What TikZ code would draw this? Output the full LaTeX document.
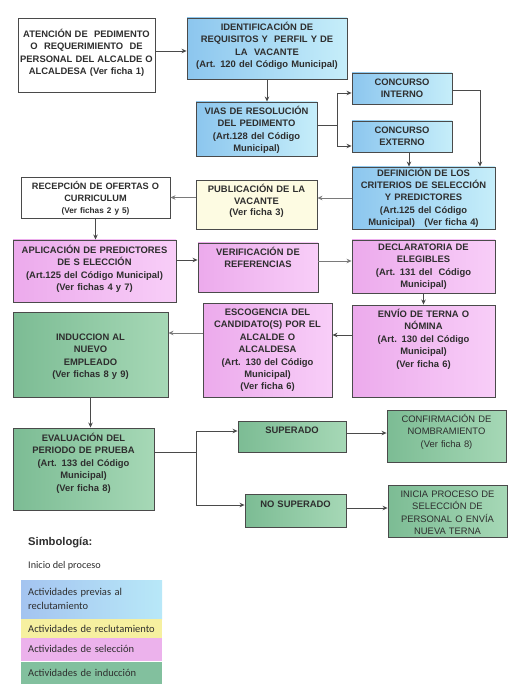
\documentclass[tikz,border=0pt]{standalone}
\usepackage{fontspec}
\setmainfont{Liberation Sans}
\newfontfamily\calib{Carlito}
\usetikzlibrary{arrows.meta}
\definecolor{bordc}{HTML}{4A4A4A}
\definecolor{lightc}{HTML}{7A7A7A}
\definecolor{txtc}{HTML}{2E2E2E}
\definecolor{bluL}{HTML}{8CC6EE}
\definecolor{bluR}{HTML}{C6EEFA}
\definecolor{pnkL}{HTML}{ECAAEC}
\definecolor{pnkR}{HTML}{F8CEF8}
\definecolor{grnL}{HTML}{7CBC94}
\definecolor{grnR}{HTML}{A6D8B6}
\definecolor{yel}{HTML}{FDFBE2}
\definecolor{lgblL}{HTML}{A4C4F0}
\definecolor{lgblR}{HTML}{B8E8F8}
\definecolor{lgyel}{HTML}{F6F0A0}
\definecolor{lgpnk}{HTML}{ECB2EC}
\definecolor{lggrn}{HTML}{82C09E}
\tikzset{
  box/.style={draw=bordc, line width=0.9pt, rectangle, inner sep=0pt},
  whitebox/.style={box, fill=white},
  bluebox/.style={box, left color=bluL, right color=bluR},
  pinkbox/.style={box, left color=pnkL, right color=pnkR},
  greenbox/.style={box, left color=grnL, right color=grnR},
  yelbox/.style={box, fill=yel},
  txt/.style={anchor=base, inner sep=0pt, align=center, text=txtc,
    font=\bfseries\fontsize{9.4}{12.4}\selectfont},
  txtr/.style={txt, font=\fontsize{9.4}{12.4}\selectfont},
  legtxt/.style={anchor=base west, inner sep=0pt, align=left, text=txtc, text width=140pt,
    font=\calib\fontsize{10.5}{14}\selectfont},
  arr/.style={draw=bordc, line width=0.8pt, -{Stealth[length=5pt,width=4.5pt]}},
  arrl/.style={arr, draw=lightc},
  ln/.style={draw=bordc, line width=0.8pt},
}
\begin{document}
\begin{tikzpicture}[x=1pt,y=-1pt]
\useasboundingbox[fill=white] (0,0) rectangle (515,692);
% boxes
\node[whitebox, minimum width=137pt, minimum height=74pt] (A) at (86.5,55) {};
\node[bluebox, minimum width=160pt, minimum height=61pt] (B) at (267,48.5) {};
\node[bluebox, minimum width=121pt, minimum height=54pt] (C) at (256.5,129) {};
\node[bluebox, minimum width=100pt, minimum height=31pt] (D) at (402,88.5) {};
\node[bluebox, minimum width=100pt, minimum height=31pt] (E) at (402,136.5) {};
\node[bluebox, minimum width=143pt, minimum height=62pt] (F) at (423.5,198) {};
\node[yelbox, minimum width=121pt, minimum height=49pt] (G) at (256.5,204.5) {};
\node[box, fill=white, minimum width=149pt, minimum height=41pt] (H) at (95.5,197.5) {};
\node[pinkbox, minimum width=163pt, minimum height=62pt] (I) at (94.5,271) {};
\node[pinkbox, minimum width=120pt, minimum height=49pt] (J) at (258,267.5) {};
\node[pinkbox, minimum width=143pt, minimum height=53pt] (K) at (423.5,266.5) {};
\node[pinkbox, minimum width=143pt, minimum height=92pt] (L) at (423.5,351) {};
\node[pinkbox, minimum width=129pt, minimum height=94pt] (M) at (267.5,350) {};
\node[greenbox, minimum width=155pt, minimum height=85pt] (N) at (90.5,354.5) {};
\node[greenbox, minimum width=141pt, minimum height=82pt] (O) at (83.5,469) {};
\node[greenbox, minimum width=108pt, minimum height=31pt] (P) at (292,436.5) {};
\node[greenbox, minimum width=119pt, minimum height=52pt] (Q) at (446.5,436) {};
\node[greenbox, minimum width=101pt, minimum height=33pt] (R) at (295.5,510.5) {};
\node[greenbox, minimum width=119pt, minimum height=52pt] (S) at (447.5,511) {};
% texts
\node[txt, text width=150pt] (tA) at (86.5,37.5) {ATENCIÓN DE\ \ PEDIMENTO\\ O\ \ REQUERIMIENTO\ \ DE\\ PERSONAL DEL ALCALDE O\\ ALCALDESA (Ver ficha 1)};
\node[txt, text width=170pt] (tB) at (267,30.5) {IDENTIFICACIÓN DE\\ REQUISITOS Y\ \ PERFIL Y DE\\ LA\ \ VACANTE\\ (Art. 120 del Código Municipal)};
\node[txt, text width=130pt] (tC) at (256.5,114.5) {VIAS DE RESOLUCIÓN\\ DEL PEDIMENTO\\ (Art.128 del Código\\ Municipal)};
\node[txt, text width=100pt] (tD) at (402,85.5) {CONCURSO\\ INTERNO};
\node[txt, text width=100pt] (tE) at (402,133.5) {CONCURSO\\ EXTERNO};
\node[txt, text width=150pt, font=\bfseries\fontsize{9.4}{12.2}\selectfont] (tF) at (423.5,176.5) {DEFINICIÓN DE LOS\\ CRITERIOS DE SELECCIÓN\\ Y PREDICTORES\\ (Art.125 del Código\\ Municipal)\ \ \ (Ver ficha 4)};
\node[txt, text width=130pt, font=\bfseries\fontsize{9.4}{11.6}\selectfont] (tG) at (256.5,192.5) {PUBLICACIÓN DE LA\\ VACANTE\\ (Ver ficha 3)};
\node[txt, text width=160pt, font=\bfseries\fontsize{9.2}{11.8}\selectfont] (tH) at (95.5,189.5) {RECEPCIÓN DE OFERTAS O\\ CURRICULUM\\ {\fontsize{8.2}{11.8}\selectfont(Ver fichas 2 y 5)}};
\node[txt, text width=170pt] (tI) at (94.5,253.5) {APLICACIÓN DE PREDICTORES\\ DE S ELECCIÓN\\ (Art.125 del Código Municipal)\\ (Ver fichas 4 y 7)};
\node[txt, text width=130pt] (tJ) at (258,255.5) {VERIFICACIÓN DE\\ REFERENCIAS};
\node[txt, text width=150pt] (tK) at (423.5,250.5) {DECLARATORIA DE\\ ELEGIBLES\\ (Art. 131 del\ \ Código\\ Municipal)};
\node[txt, text width=150pt] (tL) at (423.5,317.5) {ENVÍO DE TERNA O\\ NÓMINA\\ (Art. 130 del Código\\ Municipal)\\ (Ver ficha 6)};
\node[txt, text width=135pt] (tM) at (267.5,315.5) {ESCOGENCIA DEL\\ CANDIDATO(S) POR EL\\ ALCALDE O\\ ALCALDESA\\ (Art. 130 del Código\\ Municipal)\\ (Ver ficha 6)};
\node[txt, text width=155pt] (tN) at (90.5,340.5) {INDUCCION AL\\ NUEVO\\ EMPLEADO\\ (Ver fichas 8 y 9)};
\node[txt, text width=141pt] (tO) at (83.5,441.5) {EVALUACIÓN DEL\\ PERIODO DE PRUEBA\\ (Art. 133 del Código\\ Municipal)\\ (Ver ficha 8)};
\node[txt, text width=108pt] (tP) at (292,433.5) {SUPERADO};
\node[txtr, text width=125pt] (tQ) at (446.5,422.5) {CONFIRMACIÓN DE\\ NOMBRAMIENTO\\ (Ver ficha 8)};
\node[txt, text width=101pt] (tR) at (295.5,507.5) {NO SUPERADO};
\node[txtr, text width=125pt] (tS) at (447.5,497.5) {INICIA PROCESO DE\\ SELECCIÓN DE\\ PERSONAL O ENVÍA\\ NUEVA TERNA};
% helper coordinates
\coordinate (ab) at (0,51);
\coordinate (cs) at (337,125);
\coordinate (dy) at (0,93);
\coordinate (ey) at (0,146);
\coordinate (dx) at (480,90);
\coordinate (ex) at (409,160);
\coordinate (ij) at (0,260);
\coordinate (jk) at (0,261);
\coordinate (lm) at (0,335);
\coordinate (mn) at (0,333);
\coordinate (ob) at (196,452);
\coordinate (pb) at (0,431);
\coordinate (rb) at (0,505);
\coordinate (pq) at (0,433);
\coordinate (rs) at (0,508);
\coordinate (bx) at (267,0);
% connectors
\draw[arr] (A.east |- ab) -- (B.west |- ab);
\draw[arr] (B.south -| bx) -- (C.north -| bx);
\draw[ln] (C.east |- cs) -- (cs);
\draw[arr] (cs |- dy) -- (D.west |- dy);
\draw[arr] (cs) |- (E.west |- ey);
\draw[ln] (cs |- dy) -- (cs);
\draw[arr] (D.east |- dx) -- (dx) -- (dx |- F.north);
\draw[arr] (E.south -| ex) -- (F.north -| ex);
\draw[arrl] (F.west) -- (F.west -| G.east);
\draw[arrl] (G.west |- H.east) -- (H.east);
\draw[arr] (H.south) -- (H.south |- I.north);
\draw[arr] (I.east |- ij) -- (J.west |- ij);
\draw[arrl] (J.east |- jk) -- (K.west |- jk);
\draw[arr] (K.south) -- (K.south |- L.north);
\draw[arr] (L.west |- lm) -- (M.east |- lm);
\draw[arrl] (M.west |- mn) -- (N.east |- mn);
\draw[arr] (N.south) -- (N.south |- O.north);
\draw[ln] (O.east |- ob) -- (ob);
\draw[arr] (ob) |- (P.west |- pb);
\draw[arr] (ob) |- (R.west |- rb);
\draw[arr] (P.east |- pq) -- (Q.west |- pq);
\draw[arr] (R.east |- rs) -- (S.west |- rs);
% legend
\node[anchor=base west, inner sep=0pt, text=txtc, font=\bfseries\fontsize{11.2}{13}\selectfont] (simb) at (28,545.5) {Simbología:};
\node[anchor=base west, inner sep=0pt, text=txtc, font=\calib\fontsize{10.2}{12}\selectfont] (ini) at (28,568.5) {Inicio del proceso};
\node[anchor=north west, inner sep=0pt, minimum width=141pt, minimum height=39pt, left color=lgblL, right color=lgblR] (lb) at (21,580) {};
\node[anchor=north west, inner sep=0pt, minimum width=141pt, minimum height=19pt, fill=lgyel] (ly) at (21,619) {};
\node[anchor=north west, inner sep=0pt, minimum width=141pt, minimum height=23pt, fill=lgpnk] (lp) at (21,638) {};
\node[anchor=north west, inner sep=0pt, minimum width=141pt, minimum height=22pt, fill=lggrn] (lg) at (21,662) {};
\node[legtxt] (tlb) at (28,595.5) {Actividades previas al\\ reclutamiento};
\node[legtxt] (tly) at (28,632.5) {Actividades de reclutamiento};
\node[legtxt] (tlp) at (28,652.5) {Actividades de selección};
\node[legtxt] (tlg) at (28,676.5) {Actividades de inducción};
\end{tikzpicture}
\end{document}
